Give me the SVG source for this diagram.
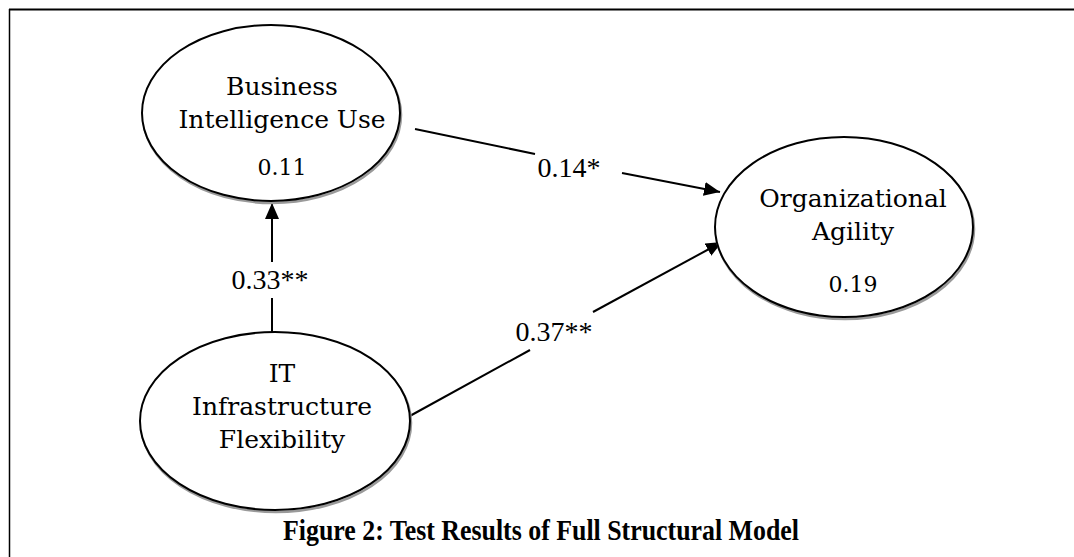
<svg xmlns="http://www.w3.org/2000/svg" width="1074" height="557" viewBox="0 0 1074 557">
<style>
.node{font-family:"DejaVu Serif","Liberation Serif",serif;font-size:25px;fill:#000;text-anchor:middle}
.num{font-family:"DejaVu Serif","Liberation Serif",serif;font-size:22px;fill:#000;text-anchor:middle}
.lbl{font-family:"Liberation Serif",serif;font-size:28px;fill:#000;text-anchor:middle}
.cap{font-family:"Liberation Serif",serif;font-size:29px;font-weight:bold;fill:#000;text-anchor:middle}
.shadow{fill:none;stroke:#9a9a9a;stroke-width:2.5}
.el{fill:#fff;stroke:#000;stroke-width:2}
.edge{stroke:#000;stroke-width:2;fill:none}
</style>
<defs>
<marker id="arr" viewBox="0 0 16 14" refX="16" refY="7" markerWidth="16" markerHeight="14" markerUnits="userSpaceOnUse" orient="auto">
<path d="M0,0 L16,7 L0,14 z" fill="#000"/>
</marker>
</defs>
<rect width="1074" height="557" fill="#fff"/>
<g id="frame">
<line x1="9" y1="9.5" x2="1074" y2="9.5" stroke="#000" stroke-width="2"/>
<line x1="9.5" y1="9" x2="9.5" y2="557" stroke="#000" stroke-width="1.5"/>
</g>
<g id="connectors">
<line class="edge" x1="272" y1="333" x2="272" y2="298"/>
<line class="edge" x1="272" y1="262" x2="272" y2="203" marker-end="url(#arr)"/>
<line class="edge" x1="415" y1="129" x2="535" y2="154"/>
<line class="edge" x1="622" y1="173" x2="720" y2="192" marker-end="url(#arr)"/>
<line class="edge" x1="408" y1="417" x2="530" y2="350"/>
<line class="edge" x1="593" y1="312" x2="722" y2="242" marker-end="url(#arr)"/>
<text class="lbl" x="270" y="289">0.33**</text>
<text class="lbl" x="569" y="177">0.14*</text>
<text class="lbl" x="554" y="341">0.37**</text>
</g>
<g id="bi">
<ellipse class="shadow" cx="272" cy="115" rx="129" ry="88"/>
<ellipse class="el" cx="271" cy="113" rx="129" ry="88"/>
<text class="node" x="282" y="95">Business</text>
<text class="node" x="282" y="128">Intelligence Use</text>
<text class="num" x="282" y="175">0.11</text>
</g>
<g id="oa">
<ellipse class="shadow" cx="845" cy="229" rx="129" ry="90"/>
<ellipse class="el" cx="844" cy="227" rx="129" ry="90"/>
<text class="node" x="853" y="207">Organizational</text>
<text class="node" x="853" y="240">Agility</text>
<text class="num" x="853" y="292">0.19</text>
</g>
<g id="it">
<ellipse class="shadow" cx="276" cy="423" rx="135" ry="89"/>
<ellipse class="el" cx="275" cy="421" rx="135" ry="89"/>
<text class="node" x="282" y="382">IT</text>
<text class="node" x="282" y="415">Infrastructure</text>
<text class="node" x="282" y="448">Flexibility</text>
</g>
<g id="caption">
<text class="cap" x="541" y="540" textLength="516" lengthAdjust="spacingAndGlyphs">Figure 2: Test Results of Full Structural Model</text>
</g>
</svg>
